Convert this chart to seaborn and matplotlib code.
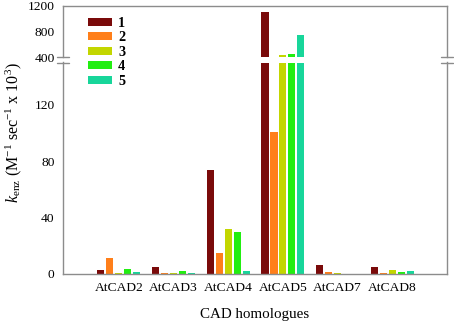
import matplotlib
matplotlib.use("Agg")
import matplotlib.pyplot as plt
import seaborn as sns
import pandas as pd

sns.set_style("white")
plt.rcParams['font.family'] = ['Liberation Serif', 'DejaVu Serif']
plt.rcParams['mathtext.fontset'] = 'custom'
plt.rcParams['mathtext.rm'] = 'Liberation Serif'
plt.rcParams['mathtext.it'] = 'Liberation Serif:italic'
plt.rcParams['text.color'] = 'black'
plt.rcParams['axes.labelcolor'] = 'black'

homologues = ["AtCAD2", "AtCAD3", "AtCAD4", "AtCAD5", "AtCAD7", "AtCAD8"]
series = ["1", "2", "3", "4", "5"]
s1 = [2.5, 5.3, 73.5, 1100, 6.2, 4.8]
s2 = [11.0, 1.0, 15.0, 101, 1.2, 0.4]
s3 = [1.0, 0.8, 32.0, 425, 0.8, 2.5]
s4 = [3.5, 2.2, 29.5, 445, 0.0, 1.3]
s5 = [1.5, 1.0, 2.2, 740, 0.0, 2.0]
colors = ["#7A0A0A", "#FF7F1A", "#C3D600", "#22EE11", "#18D69A"]

rows = []
for name, vals in zip(series, [s1, s2, s3, s4, s5]):
    for h, v in zip(homologues, vals):
        rows.append({"homologue": h, "series": name, "value": v})
df = pd.DataFrame(rows)

W, H = 454, 326
fig = plt.figure(figsize=(W / 100, H / 100), dpi=100)

def rect(x0, y0, x1, y1):
    return [x0 / W, 1 - y1 / H, (x1 - x0) / W, (y1 - y0) / H]

ax_top = fig.add_axes(rect(63, 5.5, 447, 57))
ax_bot = fig.add_axes(rect(63, 62.5, 447, 274))

spine_col = "#8c8c8c"
for ax in (ax_top, ax_bot):
    sns.barplot(data=df, x="homologue", y="value", hue="series",
                palette=colors, saturation=1, width=0.82, gap=0.2,
                linewidth=0, ax=ax, legend=(ax is ax_bot), errorbar=None)
    ax.set_xlim(-1.02, 6.0)
    ax.set_xlabel("")
    ax.set_ylabel("")
    for s in ax.spines.values():
        s.set_color(spine_col)
        s.set_linewidth(1.0)
    ax.tick_params(axis="both", direction="out", length=4, width=1,
                   color=spine_col, labelcolor="black", labelsize=9.7, pad=2)

ax_top.set_ylim(400, 1200)
ax_top.set_yticks([400, 800, 1200])
ax_top.spines["bottom"].set_visible(False)
ax_top.tick_params(axis="x", bottom=False, labelbottom=False)

ax_bot.set_ylim(0, 150)
ax_bot.set_yticks([0, 40, 80, 120])
ax_bot.spines["top"].set_visible(False)
ax_bot.set_xlabel("CAD homologues", fontsize=10.8, labelpad=10)

# break marks
for xf in (0, 1):
    for ax, yv in ((ax_top, 0.0), (ax_bot, 1.0)):
        ax.plot([xf - 0.015, xf + 0.015], [yv, yv], transform=ax.transAxes,
                color=spine_col, lw=1.0, clip_on=False)

handles, labels = ax_bot.get_legend_handles_labels()
ax_bot.get_legend().remove()
fig.legend(handles, labels, loc="upper left",
           bbox_to_anchor=(88 / W, 1 - 17 / H), frameon=False,
           prop={"weight": "bold", "size": 10.3},
           handlelength=1.7, handleheight=0.5, labelspacing=0.1,
           handletextpad=0.4, borderpad=0, borderaxespad=0)

fig.text(14 / W, 1 - 133 / H,
         r"$k_{\mathrm{enz}}$ (M$^{-1}$ sec$^{-1}$ x 10$^{3}$)",
         rotation=90, ha="center", va="center", fontsize=11.5)

fig.savefig("out.png", dpi=100)
